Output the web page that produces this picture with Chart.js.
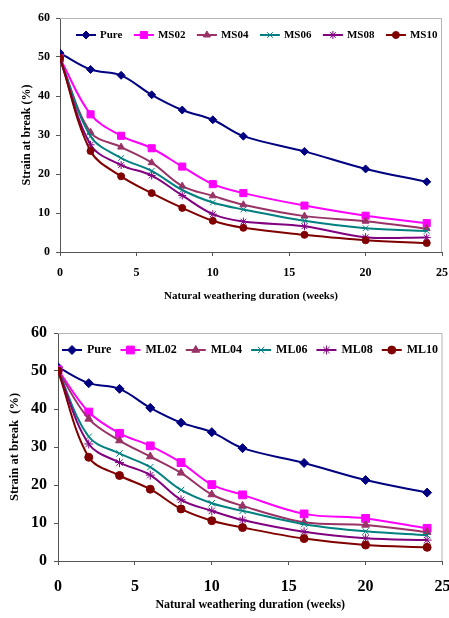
<!DOCTYPE html>
<html>
<head>
<meta charset="utf-8">
<script src="https://cdn.jsdelivr.net/npm/chart.js@4.4.1/dist/chart.umd.min.js"></script>
<style>
  body { margin: 0; background: #fff; }
  .box { position: absolute; left: 0; width: 449px; }
  #top { top: 0; height: 310px; }
  #bottom { top: 310px; height: 308px; }
</style>
</head>
<body>
<div class="box" id="top"><canvas id="chartMS"></canvas></div>
<div class="box" id="bottom"><canvas id="chartML"></canvas></div>
<script>
// durée d'exposition (semaines)
const weeks = [0, 2, 4, 6, 8, 10, 12, 16, 20, 24];

const pure = [51.0, 46.8, 45.3, 40.3, 36.4, 33.9, 29.7, 25.8, 21.3, 18.0];

// série MS (graphique du haut)
const labelsMS = ['Pure', 'MS02', 'MS04', 'MS06', 'MS08', 'MS10'];
const ms02 = [49.7, 35.3, 29.8, 26.6, 21.9, 17.4, 15.1, 11.9, 9.3, 7.4];
const ms04 = [49.5, 30.7, 26.9, 22.9, 16.9, 14.4, 12.1, 9.2, 7.9, 6.0];
const ms06 = [49.5, 29.7, 24.1, 20.8, 15.9, 12.7, 10.9, 8.0, 6.1, 5.4];
const ms08 = [49.5, 27.5, 22.3, 19.6, 14.5, 9.7, 7.8, 6.6, 3.8, 3.7];
const ms10 = [49.8, 25.9, 19.4, 15.1, 11.3, 8.0, 6.2, 4.4, 3.0, 2.3];

// série ML (graphique du bas)
const labelsML = ['Pure', 'ML02', 'ML04', 'ML06', 'ML08', 'ML10'];
const ml02 = [50.3, 39.2, 33.6, 30.3, 25.9, 20.1, 17.4, 12.4, 11.2, 8.6];
const ml04 = [50.0, 37.4, 31.7, 27.5, 23.2, 17.5, 14.5, 10.2, 9.5, 7.6];
const ml06 = [50.0, 32.7, 28.3, 24.7, 18.7, 15.2, 13.2, 9.7, 7.8, 6.8];
const ml08 = [50.0, 30.8, 25.9, 22.6, 16.1, 13.2, 10.8, 7.7, 6.0, 5.5];
const ml10 = [50.0, 27.3, 22.5, 18.9, 13.7, 10.6, 8.8, 5.9, 4.2, 3.6];

// styles des séries (ordre identique aux labels)
const colors = ['#000080', '#FF00FF', '#993366', '#008080', '#800080', '#800000'];
const markers = ['rectRot', 'rect', 'triangle', 'crossRot', 'star', 'circle'];

const FONT = '"Liberation Serif", "Times New Roman", serif';

// cadre gris clair en haut et à droite (style Excel)
const framePlugin = {
    id: 'frame',
    beforeDatasetsDraw(chart) {
        const { ctx, chartArea: a } = chart;
        ctx.save();
        ctx.strokeStyle = '#b4b4b4';
        ctx.lineWidth = 1;
        ctx.beginPath();
        ctx.moveTo(a.left, a.top + 0.5);
        ctx.lineTo(a.right - 0.5, a.top + 0.5);
        ctx.lineTo(a.right - 0.5, a.bottom);
        ctx.stroke();
        ctx.restore();
    }
};

// légende : trait + marqueur puis texte, dans la zone du graphique
const seriesKey = {
    id: 'seriesKey',
    afterDatasetsDraw(chart, args, opts) {
        const ctx = chart.ctx;
        ctx.save();
        ctx.font = `bold ${opts.size}px ${FONT}`;
        ctx.textBaseline = 'middle';
        let x = opts.x;
        chart.data.datasets.forEach(ds => {
            ctx.strokeStyle = ds.borderColor;
            ctx.lineWidth = ds.borderWidth;
            ctx.beginPath();
            ctx.moveTo(x, opts.y);
            ctx.lineTo(x + opts.line, opts.y);
            ctx.stroke();
            ctx.fillStyle = ds.pointBackgroundColor;
            ctx.strokeStyle = ds.pointBorderColor;
            ctx.lineWidth = ds.pointBorderWidth;
            Chart.helpers.drawPoint(ctx, {
                pointStyle: ds.pointStyle,
                radius: ds.pointRadius,
                borderWidth: ds.pointBorderWidth,
                rotation: 0
            }, x + opts.line / 2, opts.y);
            ctx.fillStyle = '#000';
            ctx.fillText(ds.label, x + opts.line + opts.gap, opts.y);
            x += opts.line + opts.gap + ctx.measureText(ds.label).width + opts.space;
        });
        ctx.restore();
    }
};

function buildDatasets(labels, series, radius) {
    return series.map((values, i) => ({
        label: labels[i],
        data: values.map((v, k) => ({ x: weeks[k], y: v })),
        borderColor: colors[i],
        borderWidth: 2,
        pointStyle: markers[i],
        pointRadius: markers[i] === 'rect' ? radius + 1 : (markers[i] === 'circle' ? radius - 0.5 : radius),
        pointBackgroundColor: colors[i],
        pointBorderColor: colors[i],
        pointBorderWidth: 1,
        tension: 0.35,
        order: series.length - i
    }));
}

function makeChart(id, labels, series, cfg) {
    const ctx = document.getElementById(id).getContext('2d');
    return new Chart(ctx, {
        type: 'line',
        data: { datasets: buildDatasets(labels, series, cfg.radius) },
        options: {
            responsive: true,
            maintainAspectRatio: false,
            animation: false,
            layout: { padding: { top: cfg.padTop, right: cfg.padRight, left: 0, bottom: 0 } },
            plugins: {
                legend: { display: false },
                tooltip: { enabled: false },
                seriesKey: cfg.key
            },
            scales: {
                x: {
                    type: 'linear',
                    min: 0,
                    max: 25,
                    grid: { drawOnChartArea: false, drawTicks: true, tickLength: 4, color: '#555' },
                    border: { color: '#555', width: 1 },
                    ticks: {
                        stepSize: 5,
                        color: '#000',
                        padding: cfg.xTickPad,
                        maxRotation: 0,
                        font: { family: FONT, size: cfg.tickSize, weight: 'bold' }
                    },
                    title: {
                        display: true,
                        text: 'Natural weathering duration (weeks)',
                        color: '#000',
                        padding: { top: 0, bottom: cfg.xTitlePad },
                        font: { family: FONT, size: cfg.xTitleSize, weight: 'bold' }
                    },
                    afterFit(scale) {
                        scale.height = cfg.xHeight;
                        scale.paddingLeft = 0;
                        scale.paddingRight = 0;
                    }
                },
                y: {
                    min: 0,
                    max: 60,
                    grid: { drawOnChartArea: false, drawTicks: true, tickLength: 4, color: '#555' },
                    border: { color: '#555', width: 1 },
                    ticks: {
                        stepSize: 10,
                        color: '#000',
                        padding: cfg.yTickPad,
                        font: { family: FONT, size: cfg.tickSize, weight: 'bold' }
                    },
                    title: {
                        display: true,
                        text: cfg.yTitle,
                        color: '#000',
                        padding: { top: cfg.yTitlePad, bottom: 0 },
                        font: { family: FONT, size: cfg.yTitleSize, weight: 'bold' }
                    },
                    afterFit(scale) {
                        scale.width = cfg.yWidth;
                        scale.paddingTop = 0;
                        scale.paddingBottom = 0;
                    }
                }
            }
        },
        plugins: [framePlugin, seriesKey]
    });
}

// --- GRAPHIQUE MS ---
makeChart('chartMS', labelsMS, [pure, ms02, ms04, ms06, ms08, ms10], {
    radius: 4,
    padTop: 18, padRight: 7,
    xHeight: 58, yWidth: 60,
    tickSize: 12, xTickPad: 10, yTickPad: 6,
    xTitleSize: 11, xTitlePad: 7,
    yTitle: 'Strain at break (%)', yTitleSize: 12, yTitlePad: 20,
    key: { x: 76, y: 35, size: 11, line: 20, gap: 4, space: 11.5 }
});

// --- GRAPHIQUE ML ---
makeChart('chartML', labelsML, [pure, ml02, ml04, ml06, ml08, ml10], {
    radius: 4.5,
    padTop: 23, padRight: 5,
    xHeight: 57, yWidth: 58,
    tickSize: 16, xTickPad: 12, yTickPad: 7,
    xTitleSize: 12, xTitlePad: 6,
    yTitle: 'Strain at break  (%)', yTitleSize: 12.5, yTitlePad: 7.5,
    key: { x: 62, y: 40, size: 12, line: 20, gap: 5, space: 9 }
});
</script>
</body>
</html>
